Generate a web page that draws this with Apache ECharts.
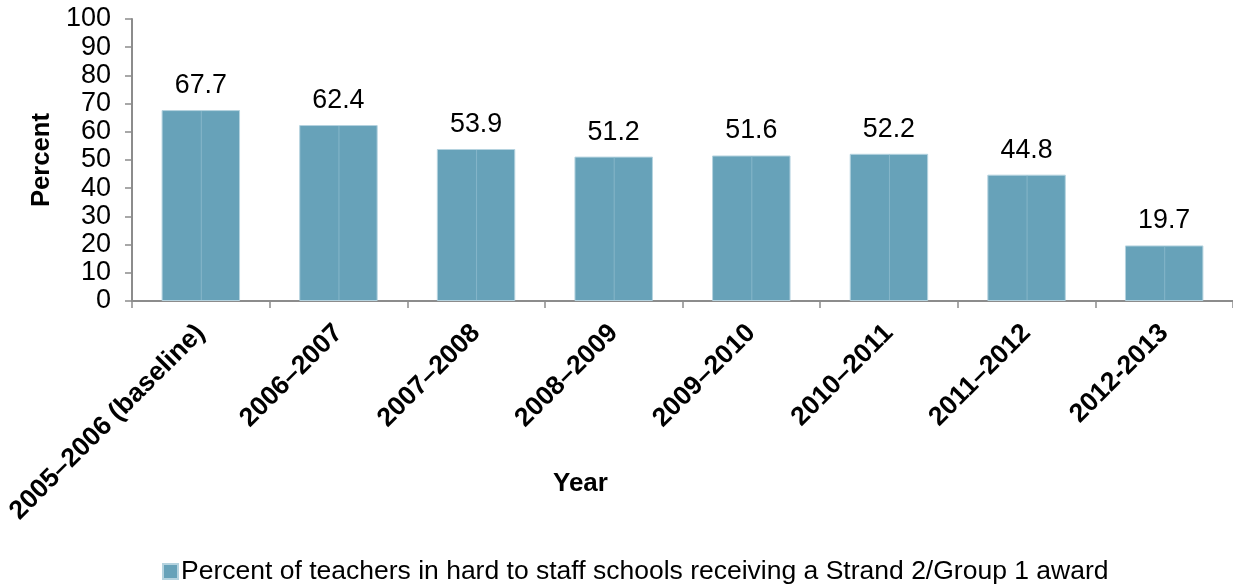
<!DOCTYPE html>
<html>
<head>
<meta charset="utf-8">
<script src="https://cdn.jsdelivr.net/npm/echarts@6/dist/echarts.min.js"></script>
<style>
html,body{margin:0;padding:0;background:#fff;}
#c{width:1233px;height:585px;}
</style>
</head>
<body>
<div id="c"></div>
<script>
var categories = ['2005\u20132006 (baseline)', '2006\u20132007', '2007\u20132008', '2008\u20132009', '2009\u20132010', '2010\u20132011', '2011\u20132012', '2012-2013'];
var values = [67.7, 62.4, 53.9, 51.2, 51.6, 52.2, 44.8, 19.7];
var seriesName = 'Percent of teachers in hard to staff schools receiving a Strand 2/Group 1 award';
var yTicks = {min: 0, max: 100, interval: 10};

var font = 'Liberation Sans, Arial, sans-serif';
var chart = echarts.init(document.getElementById('c'));
chart.setOption({
  animation: false,
  textStyle: {fontFamily: font},
  grid: {left: 132, right: 0, top: 19, bottom: 284, containLabel: false},
  legend: {
    data: [seriesName],
    left: 157, top: 553,
    itemWidth: 15, itemHeight: 15, itemGap: 6,
    textStyle: {fontFamily: font, fontSize: 26.5, color: '#000', padding: [0, 0, 0, -2]},
    icon: 'rect'
  },
  graphic: [{
    type: 'text', left: 553, top: 471,
    style: {text: 'Year', font: 'bold 26px Liberation Sans, Arial, sans-serif', fill: '#000'}
  }],
  xAxis: {
    type: 'category',
    data: categories,
    axisLine: {lineStyle: {color: '#8c8c8c', width: 2}},
    axisTick: {show: true, length: 7, lineStyle: {color: '#8c8c8c', width: 1.5}},
    axisLabel: {rotate: 45, interval: 0, margin: 28, fontFamily: font, fontSize: 26.5, fontWeight: 'bold', color: '#000'}
  },
  yAxis: {
    type: 'value',
    min: yTicks.min, max: yTicks.max, interval: yTicks.interval,
    name: 'Percent', nameLocation: 'middle', nameGap: 77, nameRotate: 90,
    nameTextStyle: {fontFamily: font, fontSize: 25.7, fontWeight: 'bold', color: '#000'},
    axisLine: {show: true, lineStyle: {color: '#8c8c8c', width: 2}},
    axisTick: {show: true, length: 7, lineStyle: {color: '#8c8c8c', width: 1.5}},
    axisLabel: {margin: 21, fontFamily: font, fontSize: 27, color: '#000'},
    splitLine: {show: false}
  },
  series: [{
    name: seriesName,
    type: 'bar',
    data: values,
    barCategoryGap: '43%',
    itemStyle: {color: '#67a2b9', borderColor: '#b5d3df', borderWidth: 1},
    label: {show: true, position: 'top', distance: 11, fontFamily: font, fontSize: 26.8, color: '#000', formatter: function(p){return p.value.toFixed(1);}}
  }, {
    name: 'centerline',
    type: 'custom',
    silent: true,
    data: values,
    renderItem: function(params, api) {
      var top = api.coord([api.value(0), api.value(1)]);
      var bottom = api.coord([api.value(0), 0]);
      return {type: 'line', shape: {x1: top[0] + 0.5, y1: top[1] + 1, x2: bottom[0] + 0.5, y2: bottom[1] - 1},
        style: {stroke: '#86b6c9', lineWidth: 1}};
    },
    encode: {x: 0, y: 1},
    z: 3
  }]
});
</script>
</body>
</html>
